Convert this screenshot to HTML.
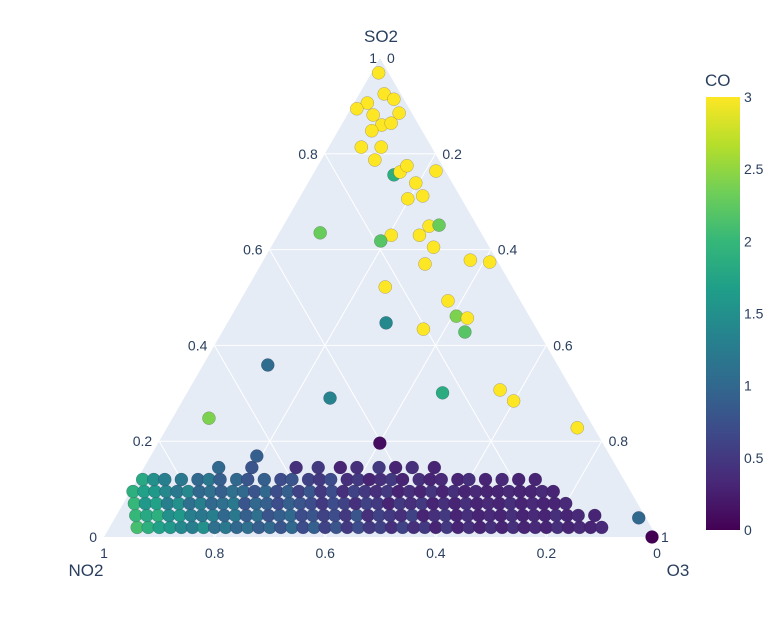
<!DOCTYPE html>
<html><head><meta charset="utf-8"><style>
body{margin:0;background:#fff;}
svg text{font-family:"Liberation Sans",sans-serif;fill:#2a3f5f;}
</style></head><body>
<svg id="chart" width="780" height="620" xmlns="http://www.w3.org/2000/svg">
<defs><linearGradient id="vir" x1="0" y1="1" x2="0" y2="0">
<stop offset="0" stop-color="#440154"/><stop offset="0.111" stop-color="#482878"/><stop offset="0.222" stop-color="#3e4989"/><stop offset="0.333" stop-color="#31688e"/><stop offset="0.444" stop-color="#26828e"/><stop offset="0.556" stop-color="#1f9e89"/><stop offset="0.667" stop-color="#35b779"/><stop offset="0.778" stop-color="#6ece58"/><stop offset="0.889" stop-color="#b5de2b"/><stop offset="1" stop-color="#fde725"/></linearGradient></defs>
<g id="grid"></g><g id="pts"></g><g id="labels"></g>
<rect x="706" y="97" width="34" height="433" fill="url(#vir)"/>
<text x="705" y="86" font-size="17">CO</text>
<g id="cbt"></g>
</svg>
<script>
// outlier points: SO2, NO2, CO
const topSO2=[.969,.925,.906,.894,.914,.885,.881,.860,.864,.848,.814,.814,.787,.756,.762,.775,.764,.739,.706,.712,.649,.651,.630,.630,.618,.635,.605,.570,.578,.574,.522,.493,.461,.457,.428,.434,.447,.359,.290,.301,.307,.284,.228,.248,.196,.040,.0,.169];
const topNO2=[.018,.030,.070,.095,.018,.023,.072,.067,.048,.091,.091,.127,.116,.097,.083,.064,.017,.066,.097,.067,.087,.068,.114,.165,.190,.291,.101,.134,.048,.015,.230,.131,.132,.114,.133,.205,.266,.524,.446,.237,.130,.117,.030,.686,.403,.013,.009,.639];
const topCO=[3,3,3,3,3,3,3,3,3,3,3,3,3,1.9,3,3,3,3,3,3,3,2.3,3,3,2.2,2.3,3,3,3,3,3,3,2.4,3,2.2,3,1.4,1.05,1.35,1.85,3,3,3,2.4,0.1,1.0,0,0.9];
// dense cluster rows: SO2 per row, [NO2, CO] pairs
const rowSO2=[.02,.045,.07,.095,.12,.145];
const row0=[[.93,2.1],[.91,1.9],[.89,1.7],[.87,1.6],[.85,1.4],[.83,1.3],[.81,1.5],[.79,1.1],[.77,1.2],[.75,1.0],[.73,1.1],[.71,.9],[.69,1.0],[.67,.8],[.65,1.0],[.63,.7],[.61,.9],[.59,.6],[.57,.8],[.55,.5],[.53,.7],[.51,.5],[.49,.6],[.47,.4],[.45,.6],[.43,.4],[.41,.5],[.39,.3],[.37,.5],[.35,.3],[.33,.4],[.31,.3],[.29,.4],[.27,.3],[.25,.4],[.23,.3],[.21,.35],[.19,.3],[.17,.4],[.15,.3],[.13,.35],[.11,.3],[.09,.35]];
const row1=[[.92,2.0],[.90,1.8],[.88,1.9],[.86,1.5],[.84,1.6],[.82,1.3],[.80,1.2],[.78,1.3],[.76,1.0],[.74,1.2],[.72,.9],[.70,1.1],[.68,.8],[.66,.9],[.64,1.0],[.62,.7],[.60,.8],[.58,.6],[.56,.7],[.54,.5],[.52,.8],[.50,.4],[.48,.6],[.46,.5],[.44,.4],[.42,.6],[.40,.3],[.38,.4],[.36,.5],[.34,.3],[.32,.4],[.30,.3],[.28,.35],[.26,.3],[.24,.4],[.22,.3],[.20,.35],[.18,.3],[.16,.4],[.14,.3],[.12,.35],[.09,.3]];
const row2=[[.91,2.0],[.89,1.6],[.87,1.7],[.85,1.3],[.83,1.5],[.81,1.1],[.79,1.3],[.77,1.0],[.75,1.1],[.73,1.2],[.71,.8],[.69,1.0],[.67,.9],[.65,.7],[.63,.9],[.61,.8],[.59,.7],[.57,.5],[.55,.7],[.53,.6],[.51,.4],[.49,.6],[.47,.5],[.45,.3],[.43,.5],[.41,.4],[.39,.5],[.37,.3],[.35,.4],[.33,.3],[.31,.4],[.29,.3],[.27,.35],[.25,.3],[.23,.4],[.21,.3],[.19,.35],[.17,.3],[.15,.3],[.13,.35]];
const row3=[[.90,1.9],[.88,1.7],[.86,1.6],[.84,1.4],[.82,1.2],[.80,1.4],[.78,1.0],[.76,1.1],[.74,.9],[.72,1.1],[.70,1.0],[.68,.8],[.66,1.0],[.64,.7],[.62,.9],[.60,.6],[.58,.8],[.56,.5],[.54,.7],[.52,.4],[.50,.6],[.48,.5],[.46,.4],[.44,.5],[.42,.3],[.40,.4],[.38,.3],[.36,.45],[.34,.3],[.32,.4],[.30,.3],[.28,.35],[.26,.3],[.24,.3],[.22,.35],[.20,.3],[.18,.3],[.16,.35],[.14,.3]];
const row4=[[.87,1.8],[.85,1.5],[.83,1.3],[.80,1.2],[.77,1.0],[.75,1.2],[.73,.9],[.70,1.0],[.68,.8],[.65,.9],[.62,.7],[.60,.8],[.57,.6],[.55,.5],[.53,.7],[.50,.4],[.48,.5],[.46,.3],[.44,.4],[.42,.5],[.40,.3],[.37,.4],[.35,.3],[.33,.35],[.30,.3],[.28,.4],[.25,.3],[.22,.35],[.19,.3],[.16,.3]];
const row5=[[.72,1.0],[.66,.8],[.58,.4],[.54,.5],[.50,.3],[.47,.4],[.43,.5],[.40,.3],[.37,.4],[.33,.3]];
const rows=[row0,row1,row2,row3,row4,row5];
const cbTicks=[0,.5,1,1.5,2,2.5,3];
const gridVals=[.2,.4,.6,.8];

const NS="http://www.w3.org/2000/svg";
const T={x:380,y:58},L={x:104,y:537},R={x:657,y:537};
function pos(a,b){const c=1-a-b;return [L.x*b+R.x*c+T.x*a, L.y*b+R.y*c+T.y*a];}
const stops=["#440154","#482878","#3e4989","#31688e","#26828e","#1f9e89","#35b779","#6ece58","#b5de2b","#fde725"];
function hex(h){return [1,3,5].map(i=>parseInt(h.substr(i,2),16));}
function vir(v){let t=Math.max(0,Math.min(1,v/3))*9;let i=Math.min(8,Math.floor(t)),f=t-i;const a=hex(stops[i]),b=hex(stops[i+1]);return "rgb("+a.map((x,k)=>Math.round(x+(b[k]-x)*f)).join(",")+")";}
function el(tag,attrs,parent){const e=document.createElementNS(NS,tag);for(const k in attrs)e.setAttribute(k,attrs[k]);parent.appendChild(e);return e;}
const grid=document.getElementById('grid'),pts=document.getElementById('pts'),lab=document.getElementById('labels'),cbt=document.getElementById('cbt');
const tri=el('polygon',{points:[T,L,R].map(p=>p.x+","+p.y).join(" "),fill:"#e5ecf6"},grid);


gridVals.forEach(v=>{
  let p=pos(v,1-v),q=pos(v,0);
  let g=el('line',{x1:p[0],y1:p[1],x2:q[0],y2:q[1],stroke:"#fff","stroke-width":1},grid);
  
  
  p=pos(0,v);q=pos(1-v,v);
  g=el('line',{x1:p[0],y1:p[1],x2:q[0],y2:q[1],stroke:"#fff","stroke-width":1},grid);
  
  
  p=pos(0,1-v);q=pos(1-v,0);
  g=el('line',{x1:p[0],y1:p[1],x2:q[0],y2:q[1],stroke:"#fff","stroke-width":1},grid);
  
  
});
function dot(a,b,c){const p=pos(a,b);const d=el('circle',{cx:p[0],cy:p[1],r:6.5,fill:vir(c),stroke:"rgba(40,20,60,0.35)","stroke-width":0.5},pts);
  
  }
rows.forEach((r,i)=>r.forEach(pr=>dot(rowSO2[i],pr[0],pr[1])));
topSO2.forEach((a,i)=>dot(a,topNO2[i],topCO[i]));
function txt(s,x,y,anchor,size,name){const t=el('text',{x:x,y:y,"text-anchor":anchor,"font-size":size},lab);t.textContent=s;
  
  }
[0,.2,.4,.6,.8].forEach(v=>{const p=pos(v,1-v);txt(String(v),p[0]-7,p[1]+5,"end",14,"so2-tick-label");});
txt("1",377,63,"end",14,"so2-tick-label");
[0,.2,.4,.6,.8].forEach(v=>{const p=pos(1-v,0);txt(String(v),p[0]+7,p[1]+5,"start",14,"o3-tick-label");});
txt("1",661,542,"start",14,"o3-tick-label");
[1,.8,.6,.4,.2,0].forEach(v=>{const p=pos(0,v);txt(String(v),p[0],p[1]+21,"middle",14,"no2-tick-label");});
txt("SO2",381,42,"middle",17,"so2-axis-title");
txt("NO2",86,576,"middle",17,"no2-axis-title");
txt("O3",678,576,"middle",17,"o3-axis-title");
cbTicks.forEach(v=>{const y=530-v/3*433;const t=el('text',{x:744,y:y+5,"font-size":14},cbt);t.textContent=String(v);
  
  });
</script>
</body></html>
